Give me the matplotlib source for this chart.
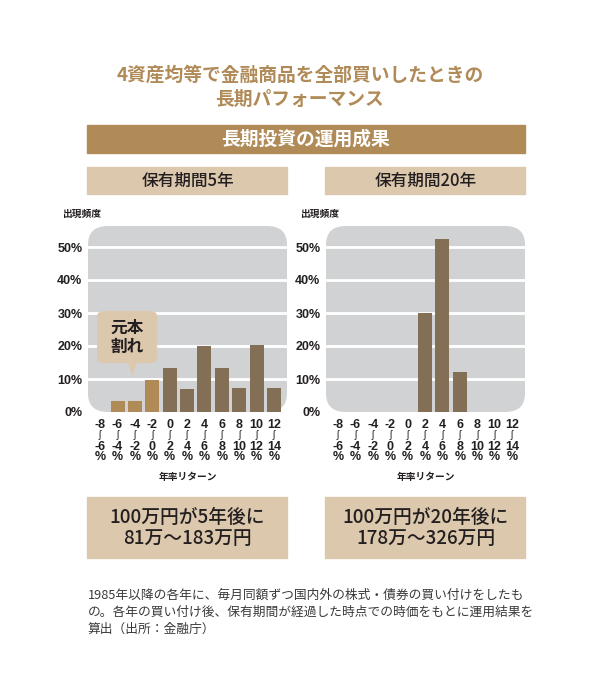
# -*- coding: utf-8 -*-
# long-term performance of 4-asset balanced purchase: return distribution

import matplotlib.pyplot as plt
from matplotlib.patches import FancyBboxPatch, Polygon
from matplotlib.transforms import blended_transform_factory

plt.rcParams['font.family'] = ['Noto Sans CJK JP', 'DejaVu Sans']

W, H = 595, 696

# data
bins_lo = [-8, -6, -4, -2, 0, 2, 4, 6, 8, 10, 12]
bins_hi = [-6, -4, -2, 0, 2, 4, 6, 8, 10, 12, 14]
freq_5y = [0, 3.3, 3.3, 9.7, 13.4, 6.9, 20.0, 13.4, 7.4, 20.4, 7.4]
freq_20y = [0, 0, 0, 0, 0, 30.0, 52.4, 12.1, 0, 0, 0]
y_ticks = [0, 10, 20, 30, 40, 50]
panel_titles = ['保有期間5年', '保有期間20年']
result_texts = ['100万円が5年後に\n81万〜183万円', '100万円が20年後に\n178万〜326万円']

GOLD = '#b08b58'
BROWN = '#836f56'
BEIGE = '#dcc8ad'
GREY = '#d1d2d4'
DARK = '#231f20'
NUM_FONT = ['Liberation Sans', 'DejaVu Sans']


def px(x, y):
    return x / W, 1 - y / H


def fig_rect(fig, x0, y0, x1, y1, color):
    fx, fy = px(x0, y1)
    fig.patches.append(plt.Rectangle((fx, fy), (x1 - x0) / W, (y1 - y0) / H,
                                     color=color, transform=fig.transFigure,
                                     zorder=0))


def draw_panel(fig, left, values, title, result):
    right = left + 199
    top, bottom = 226, 412
    ph = bottom - top
    fx, fy = px(left, bottom)
    ax = fig.add_axes([fx, fy, (right - left) / W, ph / H])
    ax.set_xlim(-0.7, 10.75)
    ax.set_ylim(0, ph / 3.3)
    ax.patch.set_visible(False)
    for s in ax.spines.values():
        s.set_visible(False)

    bg = FancyBboxPatch((0, 0), 1, 1, boxstyle='round,pad=0,rounding_size=0.1',
                        transform=ax.transAxes, facecolor=GREY,
                        edgecolor='none', zorder=0)
    ax.add_patch(bg)
    for t in y_ticks[1:]:
        ln = ax.axhline(t, color='white', lw=2, zorder=1)
        ln.set_clip_path(bg)

    colors = [GOLD if hi <= 0 else BROWN for hi in bins_hi]
    ax.bar(range(len(values)), values, width=0.81, color=colors, zorder=2)

    ax.set_yticks(y_ticks)
    ax.set_yticklabels(['%d%%' % t for t in y_ticks], fontsize=9,
                       fontweight='bold', color=DARK, family=NUM_FONT)
    ax.set_xticks([])
    ax.tick_params(length=0, pad=4)

    # stacked range labels under each bar: lo / wave / hi / %
    tr = blended_transform_factory(ax.transData, ax.transAxes)
    for i, (lo, hi) in enumerate(zip(bins_lo, bins_hi)):
        for txt, ypx, fs, fw in [('%d' % lo, 425, 9, 'bold'),
                                 ('ʃ', 435.5, 7, 'normal'),
                                 ('%d' % hi, 447, 9, 'bold'),
                                 ('%', 457.5, 9, 'bold')]:
            ax.text(i, -(ypx - bottom) / ph, txt, transform=tr, ha='center',
                    va='center', fontsize=fs, fontweight=fw, color=DARK,
                    family=NUM_FONT)

    ax.text(-26 / 199, (bottom - 214) / ph, '出現頻度', transform=ax.transAxes,
            ha='left', va='center', fontsize=7, fontweight='bold', color=DARK)
    ax.text(0.5, -(477 - bottom) / ph, '年率リターン', transform=ax.transAxes,
            ha='center', va='center', fontsize=7, fontweight='bold', color=DARK)

    # header and result boxes
    fig_rect(fig, left - 1, 167, right, 194, BEIGE)
    fig.text(*px((left + right) / 2, 181), title, ha='center', va='center',
             fontsize=12, color=DARK, fontweight='medium')
    fig_rect(fig, left - 1, 497, right, 558, BEIGE)
    fig.text(*px((left + right) / 2, 528), result, ha='center', va='center',
             fontsize=13.5, color=DARK, linespacing=1.1, fontweight='medium')
    return ax


fig = plt.figure(figsize=(W / 100, H / 100), dpi=100)

fig.text(*px(300, 75), '4資産均等で金融商品を全部買いしたときの', ha='center',
         va='center', fontsize=13.5, color=GOLD, fontweight='bold')
fig.text(*px(300, 99), '長期パフォーマンス', ha='center', va='center',
         fontsize=13.5, color=GOLD, fontweight='bold')

fig_rect(fig, 87, 125, 525, 153, GOLD)
fig.text(*px(306, 139), '長期投資の運用成果', ha='center', va='center',
         fontsize=13.5, color='white', fontweight='bold')

ax1 = draw_panel(fig, 88, freq_5y, panel_titles[0], result_texts[0])
ax2 = draw_panel(fig, 326, freq_20y, panel_titles[1], result_texts[1])

# callout over the loss bars
box = FancyBboxPatch((-0.18, 14.8), 3.46, 15.8,
                     boxstyle='round,pad=0,rounding_size=0.5',
                     mutation_aspect=3.0, facecolor=BEIGE, edgecolor='none',
                     zorder=3)
ax1.add_patch(box)
ax1.add_patch(Polygon([(1.6, 14.9), (2.1, 14.9), (1.85, 10.9)], closed=True,
                      facecolor=BEIGE, edgecolor='none', zorder=3))
ax1.text(1.55, 22.7, '元本\n割れ', ha='center', va='center', fontsize=12,
         color=DARK, fontweight='bold', linespacing=1.05, zorder=4)

fig.text(*px(88, 612),
         '1985年以降の各年に、毎月同額ずつ国内外の株式・債券の買い付けをしたも\n'
         'の。各年の買い付け後、保有期間が経過した時点での時価をもとに運用結果を\n'
         '算出（出所：金融庁）',
         ha='left', va='center', fontsize=9.2, color='#3a3a3a', linespacing=1.38)

fig.savefig('out.png', dpi=100)
